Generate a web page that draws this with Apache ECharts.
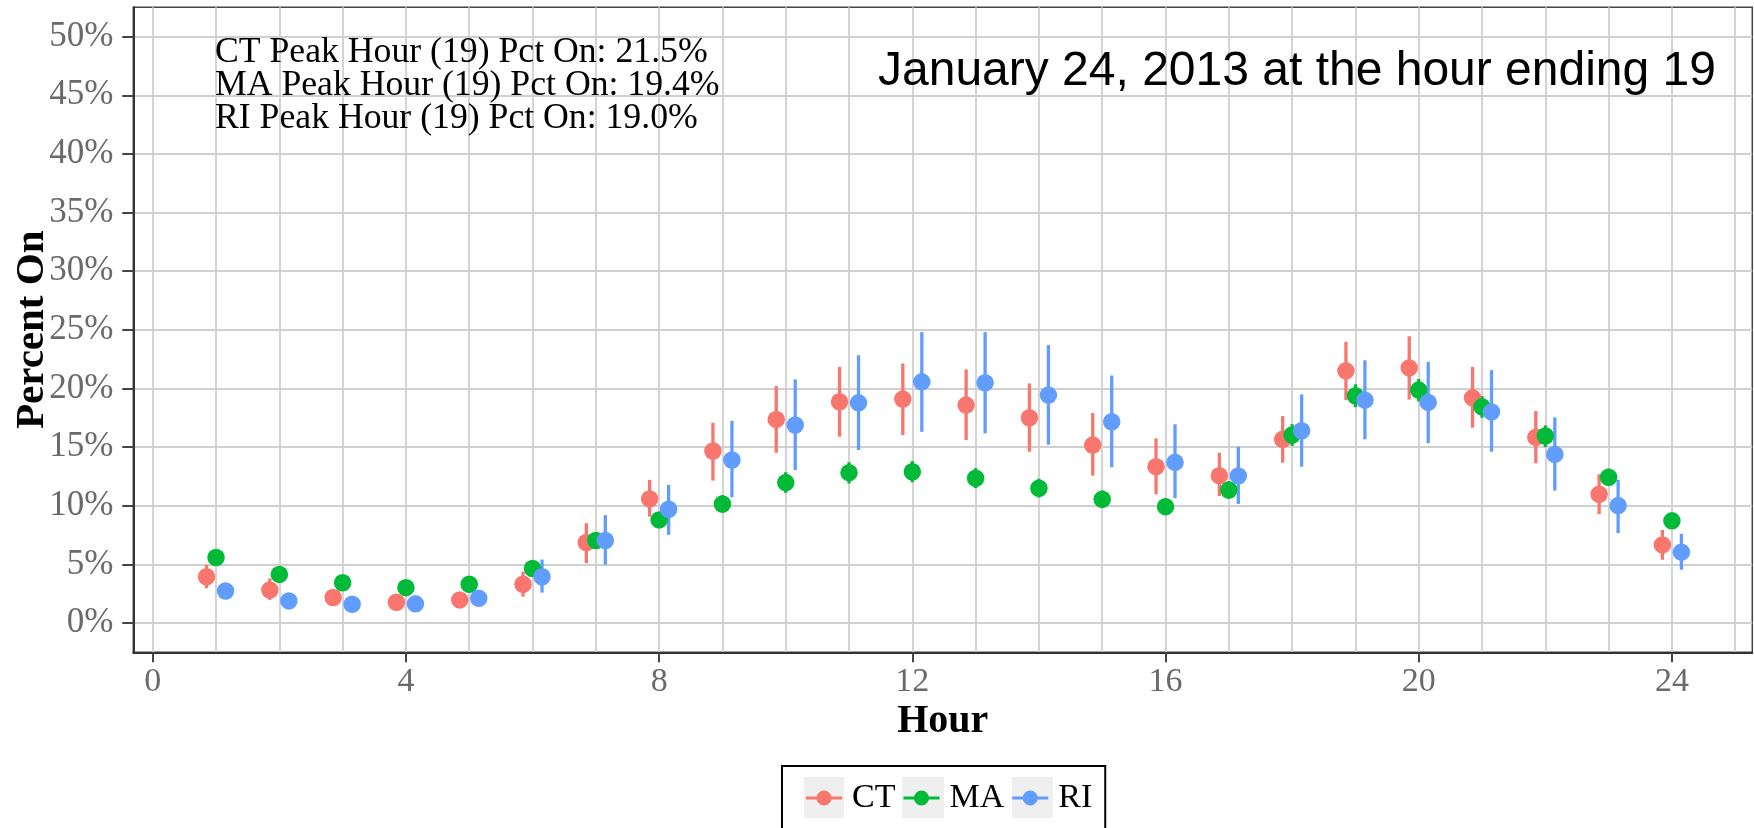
<!DOCTYPE html>
<html>
<head>
<meta charset="utf-8">
<script src="https://cdn.jsdelivr.net/npm/echarts@6/dist/echarts.min.js"></script>
<style>
  html, body { margin: 0; padding: 0; background: #ffffff; }
  #chart { width: 1754px; height: 828px; }
</style>
</head>
<body>
<div id="chart"></div>
<script>
// ---------------- data ----------------
const hours = [1, 2, 3, 4, 5, 6, 7, 8, 9, 10, 11, 12, 13, 14, 15, 16, 17, 18, 19, 20, 21, 22, 23, 24];

const ctValue = [3.94, 2.81, 2.17, 1.77, 1.97, 3.30, 6.86, 10.58, 14.66, 17.36, 18.86, 19.09, 18.58, 17.50, 15.17, 13.33, 12.56, 15.66, 21.50, 21.75, 19.20, 15.83, 10.98, 6.66];
const ctLow   = [2.96, 1.97, 1.75, 1.40, 1.60, 2.25, 5.10, 9.07, 12.14, 14.52, 15.88, 16.03, 15.60, 14.60, 12.56, 10.98, 10.83, 13.67, 19.00, 19.06, 16.65, 13.62, 9.28, 5.39];
const ctHigh  = [4.96, 3.80, 2.60, 2.15, 2.35, 4.36, 8.51, 12.20, 17.07, 20.20, 21.84, 22.13, 21.62, 20.43, 17.90, 15.74, 14.52, 17.64, 23.97, 24.45, 21.84, 18.07, 12.68, 7.94];

const maValue = [5.58, 4.14, 3.43, 3.01, 3.30, 4.65, 7.03, 8.79, 10.15, 11.97, 12.82, 12.90, 12.34, 11.49, 10.55, 9.92, 11.34, 16.03, 19.37, 19.86, 18.43, 15.94, 12.43, 8.71];
const maLow   = [5.20, 3.80, 3.10, 2.70, 3.00, 4.20, 6.40, 8.10, 9.40, 11.10, 11.90, 12.00, 11.50, 10.70, 9.80, 9.20, 10.60, 15.10, 18.40, 18.90, 17.50, 15.00, 11.70, 8.20];
const maHigh  = [5.95, 4.50, 3.75, 3.30, 3.60, 5.10, 7.65, 9.45, 10.90, 12.85, 13.70, 13.80, 13.20, 12.30, 11.30, 10.65, 12.10, 16.95, 20.35, 20.80, 19.35, 16.85, 13.15, 9.20];

const riValue = [2.73, 1.88, 1.60, 1.63, 2.11, 3.94, 7.03, 9.70, 13.90, 16.88, 18.77, 20.56, 20.48, 19.43, 17.16, 13.70, 12.54, 16.39, 19.00, 18.81, 18.00, 14.38, 10.01, 6.04];
const riLow   = [2.30, 1.50, 1.25, 1.30, 1.75, 2.59, 4.96, 7.51, 10.72, 13.05, 14.75, 16.30, 16.17, 15.20, 13.28, 10.64, 10.15, 13.33, 15.66, 15.32, 14.60, 11.29, 7.66, 4.54];
const riHigh  = [3.15, 2.25, 1.95, 1.95, 2.45, 5.41, 9.20, 11.77, 17.24, 20.77, 22.83, 24.80, 24.80, 23.70, 21.10, 16.94, 15.03, 19.49, 22.40, 22.26, 21.56, 17.53, 12.20, 7.60];

const seriesNames = ['CT', 'MA', 'RI'];
const xTickValues = [0, 4, 8, 12, 16, 20, 24];
const hourGridValues = [0, 1, 2, 3, 4, 5, 6, 7, 8, 9, 10, 11, 12, 13, 14, 15, 16, 17, 18, 19, 20, 21, 22, 23, 24, 25];
const yTickValues = [0, 5, 10, 15, 20, 25, 30, 35, 40, 45, 50];

const annotationLines = [
  'CT Peak Hour (19) Pct On: 21.5%',
  'MA Peak Hour (19) Pct On: 19.4%',
  'RI Peak Hour (19) Pct On: 19.0%'
];
const subtitleText = 'January 24, 2013 at the hour ending 19';
const xAxisTitle = 'Hour';
const yAxisTitle = 'Percent On';

// ---------------- styling ----------------
const colors = { CT: '#F8766D', MA: '#00BA38', RI: '#619CFF' };
const dodge = { CT: -0.15, MA: 0, RI: 0.15 };
const serif = '"Liberation Serif", "Times New Roman", serif';
const sans = '"Liberation Sans", Arial, sans-serif';
const gridColor = '#d0d0d0';
const tickTextColor = '#6a6a6a';

const groups = [
  { name: 'CT', v: ctValue, lo: ctLow, hi: ctHigh },
  { name: 'MA', v: maValue, lo: maLow, hi: maHigh },
  { name: 'RI', v: riValue, lo: riLow, hi: riHigh }
];

const pointSeries = groups.map(g => ({
  name: g.name,
  type: 'scatter',
  xAxisIndex: 0,
  yAxisIndex: 0,
  z: 3,
  symbol: 'circle',
  symbolSize: 17.5,
  itemStyle: { color: colors[g.name], opacity: 1 },
  emphasis: { disabled: true },
  data: hours.map((h, i) => [h + dodge[g.name], g.v[i]])
}));

const barSeries = groups.map(g => ({
  name: g.name,
  type: 'custom',
  xAxisIndex: 0,
  yAxisIndex: 0,
  z: 2,
  itemStyle: { color: colors[g.name] },
  encode: { x: 0, y: [1, 2] },
  data: hours.map((h, i) => [h + dodge[g.name], g.lo[i], g.hi[i]]),
  renderItem: function (params, api) {
    const x = api.value(0);
    const p1 = api.coord([x, api.value(1)]);
    const p2 = api.coord([x, api.value(2)]);
    return {
      type: 'line',
      shape: { x1: p1[0], y1: p1[1], x2: p2[0], y2: p2[1] },
      style: { stroke: colors[g.name], lineWidth: 3.3 }
    };
  }
}));

const legendIcon = 'path://M0,6 L36,6 L36,9 L0,9 Z M10.5,7.5 A7.5,7.5 0 1,1 25.5,7.5 A7.5,7.5 0 1,1 10.5,7.5 Z';

const chart = echarts.init(document.getElementById('chart'), null, { renderer: 'canvas' });

const option = {
  animation: false,
  backgroundColor: '#ffffff',
  grid: {
    left: 133.3, right: 1.7, top: 7.3, bottom: 175.7,
    outerBoundsMode: 'none',
    containLabel: false,
    show: true, borderColor: '#444444', borderWidth: 1.5, backgroundColor: 'transparent'
  },
  xAxis: [
    {
      type: 'value',
      min: -0.307, max: 25.27,
      name: xAxisTitle,
      nameLocation: 'middle',
      nameGap: 49,
      nameMoveOverlap: false,
      nameTextStyle: { fontFamily: serif, fontWeight: 'bold', fontSize: 40, color: '#000000' },
      axisLine: { show: true, onZero: false, lineStyle: { color: '#333333', width: 2 } },
      axisTick: { show: true, length: 10, lineStyle: { color: '#444444', width: 2 }, customValues: xTickValues },
      axisLabel: { show: true, customValues: xTickValues, margin: 13, fontFamily: serif, fontSize: 34, color: tickTextColor },
      splitLine: { show: false }
    },
    {
      type: 'value',
      min: -0.307, max: 25.27,
      position: 'bottom',
      axisLine: { show: false },
      axisTick: { show: false, customValues: hourGridValues },
      axisLabel: { show: false, customValues: hourGridValues },
      splitLine: { show: true, lineStyle: { color: gridColor, width: 1.8 } }
    }
  ],
  yAxis: {
    type: 'value',
    min: -2.5, max: 52.5,
    name: yAxisTitle,
    nameLocation: 'middle',
    nameGap: 80,
    nameMoveOverlap: false,
    nameTextStyle: { fontFamily: serif, fontWeight: 'bold', fontSize: 41, color: '#000000' },
    axisLine: { show: true, onZero: false, lineStyle: { color: '#333333', width: 2 } },
    axisTick: { show: true, length: 11, lineStyle: { color: '#444444', width: 2 }, customValues: yTickValues },
    axisLabel: {
      show: true, customValues: yTickValues, margin: 20,
      fontFamily: serif, fontSize: 35, color: tickTextColor,
      formatter: v => v + '%'
    },
    splitLine: { show: true, lineStyle: { color: gridColor, width: 1.8 } }
  },
  legend: {
    left: 782, top: 766,
    orient: 'horizontal',
    padding: [12, 13, 12, 24],
    itemGap: 8,
    itemWidth: 36,
    itemHeight: 15,
    borderColor: '#000000',
    borderWidth: 2,
    selectedMode: false,
    textStyle: { fontFamily: serif, fontSize: 34, color: '#000000', lineHeight: 40, padding: [0, 0, 0, 5] },
    data: seriesNames.map(n => ({ name: n, icon: legendIcon }))
  },
  graphic: [
    { type: 'rect', left: 804, top: 777, z: -1, shape: { width: 40, height: 41 }, style: { fill: '#efefef' }, silent: true },
    { type: 'rect', left: 902, top: 777, z: -1, shape: { width: 42, height: 41 }, style: { fill: '#efefef' }, silent: true },
    { type: 'rect', left: 1012, top: 777, z: -1, shape: { width: 41, height: 41 }, style: { fill: '#efefef' }, silent: true },
    {
      type: 'text', x: 215, y: 35.5, z: 10,
      style: {
        text: annotationLines.join('\n'),
        font: '35.7px ' + serif,
        lineHeight: 33.3,
        fill: '#000000',
        align: 'left',
        verticalAlign: 'top'
      }
    },
    {
      type: 'text', x: 878, y: 72, z: 10,
      style: {
        text: subtitleText,
        font: '48px ' + sans,
        fill: '#000000',
        align: 'left',
        verticalAlign: 'middle'
      }
    }
  ],
  series: pointSeries.concat(barSeries)
};

chart.setOption(option);
</script>
</body>
</html>
